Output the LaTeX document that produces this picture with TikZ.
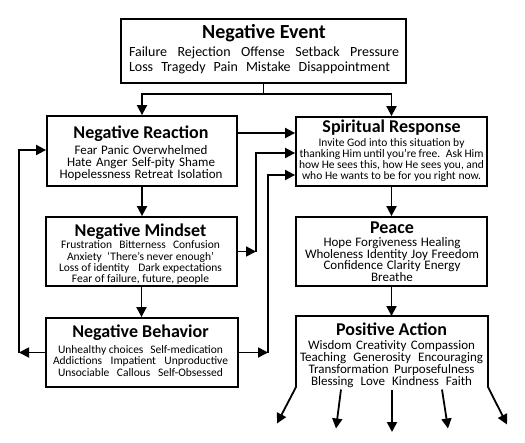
\documentclass[tikz,border=0pt]{standalone}
\usepackage{fontspec}
\setmainfont{Carlito}
\usetikzlibrary{arrows.meta}
\newcommand\wl[2]{\makebox[#1pt][s]{#2}}
\newcommand\ttl[2]{{\fontsize{#1}{#1}\selectfont\bfseries\rule{0pt}{15pt}#2}}
\newcommand\bodyfont[2]{\fontsize{#1}{#2}\selectfont\lineskiplimit=-100pt\relax}
\begin{document}
\begin{tikzpicture}[x=1pt,y=-1pt,
  box/.style n args={2}{draw, line width=1.8pt, inner sep=0pt, minimum width=#1pt, minimum height=#2pt},
  txt/.style={anchor=north, inner sep=0pt, align=center},
  ln/.style={line width=1.8pt},
  tip/.tip={Triangle[length=10pt,width=10pt]},
  arr/.style={ln, -tip}]
\fill[white] (0,0) rectangle (525,442);
\useasboundingbox (0,0) rectangle (525,442);

% boxes
\node[box={285}{64}] (ne) at (263.5,51) {};
\node[box={190}{70}] (nr) at (142,151) {};
\node[box={191}{69}] (sr) at (391.5,151.5) {};
\node[box={191}{69}] (nm) at (141.5,251.5) {};
\node[box={191}{69}] (pc) at (391.5,251.5) {};
\node[box={192}{69}] (nb) at (142,352.5) {};
\node[inner sep=0pt, outer sep=0pt, minimum width=192pt, minimum height=71pt] (pa) at (392,351.5) {};

% texts
\node[txt, font=\bodyfont{14}{14.3}] (net) at (264,22.8) {\ttl{20}{Negative Event}\\[4.6pt]
  \wl{270}{Failure\hfill Rejection\hfill Offense\hfill Setback\hfill Pressure}\\
  \makebox[270pt][l]{\wl{261}{Loss\hfill Tragedy\hfill Pain\hfill Mistake\hfill Disappointment}}};

\node[txt, font=\bodyfont{13}{11.9}] (nrt) at (141,122.8) {\ttl{18}{Negative Reaction}\\[4.3pt]
  \wl{133}{Fear\hfill Panic\hfill Overwhelmed}\\
  \wl{148}{Hate\hfill Anger\hfill Self-pity\hfill Shame}\\
  \wl{163}{Hopelessness\hfill Retreat\hfill Isolation}};

\node[txt, font=\bodyfont{11.5}{10.9}] (srt) at (391.5,117.3) {\ttl{18}{Spiritual Response}\\[3.5pt]
  \wl{146}{Invite God into this situation by}\\
  \wl{184}{thanking Him until you’re free.~ Ask Him}\\
  \wl{185}{how He sees this, how He sees you, and}\\
  \wl{179}{who He wants to be for you right now.}};

\node[txt, font=\bodyfont{11.5}{11.2}] (nmt) at (140.5,221) {\ttl{18}{Negative Mindset}\\[1.4pt]
  \wl{159}{Frustration\hfill Bitterness\hfill Confusion}\\
  \wl{147}{Anxiety\hfill ‘There’s never enough’}\\
  \wl{163}{Loss of identity\hfill Dark expectations}\\
  \wl{137}{Fear of failure, future, people}};

\node[txt, font=\bodyfont{13}{11.8}] (pct) at (392,218.5) {\ttl{18}{Peace}\\[0.8pt]
  \wl{137}{Hope\hfill Forgiveness\hfill Healing}\\
  \wl{174}{Wholeness\hfill Identity\hfill Joy\hfill Freedom}\\
  \wl{137}{Confidence\hfill Clarity\hfill Energy}\\
  Breathe};

\node[txt, font=\bodyfont{11.5}{11.2}] (nbt) at (140.5,322.7) {\ttl{18}{Negative Behavior}\\[4.6pt]
  \wl{165}{Unhealthy choices\hfill Self-medication}\\
  \wl{175}{Addictions\hfill Impatient\hfill Unproductive}\\
  \wl{165}{Unsociable\hfill Callous\hfill Self-Obsessed}};

\node[txt, font=\bodyfont{13}{12}] (pat) at (391.5,320.7) {\ttl{18}{Positive Action}\\[1.3pt]
  \wl{167}{Wisdom\hfill Creativity\hfill Compassion}\\
  \wl{183}{Teaching\hfill Generosity\hfill Encouraging}\\
  \wl{166}{Transformation\hfill Purposefulness}\\
  \wl{161}{Blessing\hfill Love\hfill Kindness\hfill Faith}};

% coordinates
\coordinate (nej) at (263.5,94);
\coordinate (y133) at (0,133);
\coordinate (c1) at (256,251.5);
\coordinate (c1t) at (256,153);
\coordinate (c2) at (268,352.5);
\coordinate (c2t) at (268,175);
\coordinate (c3) at (19,352.5);
\coordinate (c3t) at (19,150);
\coordinate (o1) at (277,423.5);
\coordinate (o5) at (507,424.5);
\coordinate (m2s) at (341,389.5);
\coordinate (m2e) at (336,428.5);
\coordinate (m3s) at (392,389.5);
\coordinate (m3e) at (392,432);
\coordinate (m4s) at (442,389.5);
\coordinate (m4e) at (448,428.5);

% connectors
\draw[ln] (ne.south) -- (nej);
\draw[arr] (nej) -| (nr.north);
\draw[arr] (nej) -| (sr.north);
\draw[arr] (nr.east |- y133) -- (sr.west |- y133);
\draw[arr] (nr.south) -- (nr.south |- nm.north);
\draw[arr] (nm.south) -- (nm.south |- nb.north);
\draw[arr] (nm.east) -- (c1);
\draw[arr] (c1) -- (c1t) -- (sr.west |- c1t);
\draw[arr] (nb.east) -- (c2);
\draw[arr] (c2) -- (c2t) -- (sr.west |- c2t);
\draw[arr] (nb.west) -- (c3);
\draw[arr] (c3) -- (c3t) -- (nr.west |- c3t);
\draw[arr] (sr.south) -- (sr.south |- pc.north);
\draw[arr] (pc.south) -- (pc.south |- pa.north);
\draw[ln, tip-tip] (o1) -- (pa.south west) -- (pa.north west) -- (pa.north east) -- (pa.south east) -- (o5);
\draw[arr] (m2s) -- (m2e);
\draw[arr] (m3s) -- (m3e);
\draw[arr] (m4s) -- (m4e);
\end{tikzpicture}
\end{document}
